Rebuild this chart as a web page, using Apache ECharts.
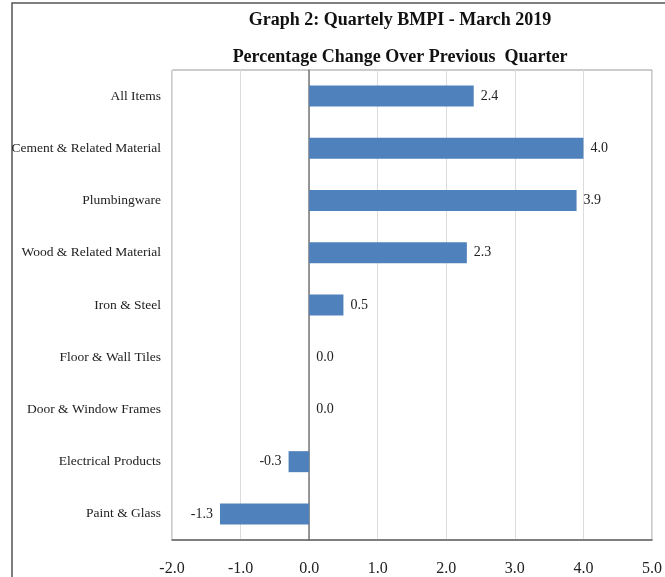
<!DOCTYPE html>
<html>
<head>
<meta charset="utf-8">
<script src="https://cdn.jsdelivr.net/npm/echarts@6/dist/echarts.min.js"></script>
<style>
  html, body { margin: 0; padding: 0; background: #fff; }
  #main { width: 665px; height: 577px; }
</style>
</head>
<body>
<div id="main"></div>
<script>
const categories = [
  'All Items',
  'Cement & Related Material',
  'Plumbingware',
  'Wood & Related Material',
  'Iron & Steel',
  'Floor & Wall Tiles',
  'Door & Window Frames',
  'Electrical Products',
  'Paint & Glass'
];
const changes = [2.4, 4.0, 3.9, 2.3, 0.5, 0.0, 0.0, -0.3, -1.3];

const serif = '"Liberation Serif", "Times New Roman", serif';

const chart = echarts.init(document.getElementById('main'));

chart.setOption({
  animation: false,
  title: {
    text: 'Graph 2: Quartely BMPI - March 2019\nPercentage Change Over Previous  Quarter',
    left: 400,
    top: 2,
    padding: 0,
    textAlign: 'center',
    textStyle: {
      fontFamily: serif,
      fontSize: 18,
      fontWeight: 'bold',
      color: '#111',
      lineHeight: 37
    }
  },
  graphic: [{
    type: 'rect',
    shape: { x: 12, y: 3, width: 700, height: 620 },
    style: { fill: 'none', stroke: '#555', lineWidth: 1.5 },
    silent: true
  }],
  grid: {
    left: 172,
    right: 9,
    top: 70,
    bottom: 32,
    show: true,
    borderColor: '#9a9a9a',
    borderWidth: 1
  },
  xAxis: {
    type: 'value',
    min: -2,
    max: 5,
    interval: 1,
    axisLine: { show: true, lineStyle: { color: '#666', width: 1.5 } },
    axisTick: { show: false },
    splitLine: { show: true, lineStyle: { color: '#dcdcdc' } },
    axisLabel: {
      margin: 21,
      fontFamily: serif,
      fontSize: 16,
      color: '#222',
      formatter: v => v.toFixed(1)
    }
  },
  yAxis: {
    type: 'category',
    data: categories,
    inverse: true,
    axisLine: { show: true, onZero: true, lineStyle: { color: '#777', width: 1.5 } },
    axisTick: { show: false },
    splitLine: { show: false },
    axisLabel: {
      margin: 11,
      fontFamily: serif,
      fontSize: 13.5,
      color: '#222'
    }
  },
  series: [{
    type: 'bar',
    barWidth: 21,
    itemStyle: { color: '#4f81bd' },
    data: changes.map(v => ({
      value: v,
      label: { position: v < 0 ? 'left' : 'right' }
    })),
    label: {
      show: true,
      distance: 7,
      fontFamily: serif,
      fontSize: 14,
      color: '#222',
      formatter: p => p.value.toFixed(1)
    }
  }]
});
</script>
</body>
</html>
